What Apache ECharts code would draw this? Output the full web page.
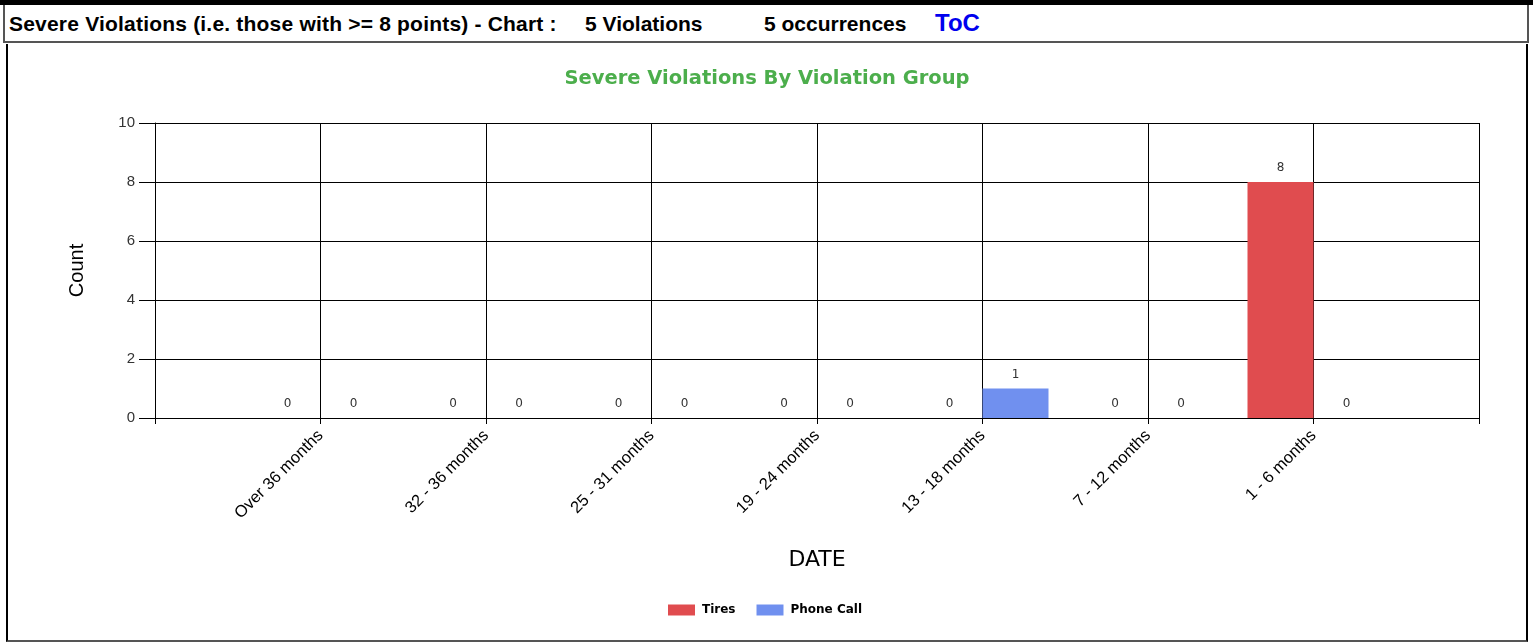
<!DOCTYPE html>
<html>
<head>
<meta charset="utf-8">
<script src="https://cdn.jsdelivr.net/npm/echarts@6/dist/echarts.min.js"></script>
<style>
  html, body { margin: 0; padding: 0; background: #fff; }
  body { width: 1533px; height: 644px; position: relative; overflow: hidden; }
  .topbar { position: absolute; left: 0; top: 0; width: 1533px; height: 5px; background: #000; }
  .header {
    position: absolute; left: 3px; top: 5px; width: 1522px; height: 36px;
    border: 2px solid #555; border-top: none; background: #fff;
    font-family: "Liberation Sans", Arial, sans-serif; font-weight: bold; font-size: 21px; color: #000;
  }
  .header span { position: absolute; top: 7px; white-space: nowrap; }
  .header .toc { color: #0000ee; font-size: 24px; top: 4px; }
  .box {
    position: absolute; left: 6px; top: 44px; width: 1518px; height: 596px;
    border-left: 2px solid #000; border-right: 2px solid #000; border-bottom: 2px solid #555;
  }
  #chart { width: 1518px; height: 596px; }
</style>
</head>
<body>
<div class="topbar"></div>
<div class="header">
  <span style="left:4px; letter-spacing:0.2px">Severe Violations (i.e. those with &gt;= 8 points) - Chart :</span>
  <span style="left:580px">5 Violations</span>
  <span style="left:759px">5 occurrences</span>
  <span class="toc" style="left:930px">ToC</span>
</div>
<div class="box"><div id="chart"></div></div>
<script>
// categories along the x axis (oldest first)
const categories = ['Over 36 months', '32 - 36 months', '25 - 31 months', '19 - 24 months',
  '13 - 18 months', '7 - 12 months', '1 - 6 months']
const tires = [0, 0, 0, 0, 0, 0, 8]
const phoneCall = [0, 0, 0, 0, 1, 0, 0]
const yTicks = [0, 2, 4, 6, 8, 10]

// labels sit on the boundaries, so pad an empty slot at each end
const xData = [''].concat(categories, [''])
const pad = arr => ['-'].concat(arr, ['-'])

const chart = echarts.init(document.getElementById('chart'))
const labelStyle = {
  show: true, position: 'top', distance: 8,
  fontFamily: 'DejaVu Sans, Verdana, sans-serif', fontSize: 12, color: '#333'
}
chart.setOption({
  animation: false,
  title: {
    text: 'Severe Violations By Violation Group',
    left: 'center', top: 20,
    textStyle: { fontFamily: 'DejaVu Sans, Tahoma, sans-serif', fontSize: 19.5, fontWeight: 'bold', color: '#4cae4c' }
  },
  legend: {
    bottom: 19, left: 655,
    icon: 'rect',
    itemWidth: 27, itemHeight: 11, itemGap: 21,
    textStyle: { fontFamily: 'DejaVu Sans, Tahoma, sans-serif', fontSize: 12, fontWeight: 'bold', color: '#000', padding: [0, 0, 0, 2] },
    data: ['Tires', 'Phone Call']
  },
  grid: { left: 147, right: 47, top: 79, bottom: 222, containLabel: false },
  xAxis: {
    type: 'category',
    data: xData,
    boundaryGap: false,
    name: 'DATE',
    nameLocation: 'middle',
    nameGap: 131,
    nameTextStyle: { fontFamily: 'DejaVu Sans, sans-serif', fontSize: 22, color: '#000' },
    axisLine: { lineStyle: { color: '#000', width: 1 } },
    axisTick: { show: true, interval: 0, length: 6, lineStyle: { color: '#000' } },
    axisLabel: {
      interval: 0, rotate: 45, margin: 15,
      fontFamily: 'Liberation Sans, Arial, sans-serif', fontSize: 16.5, color: '#000'
    },
    splitLine: { show: true, interval: 0, lineStyle: { color: '#000', width: 1 } }
  },
  yAxis: {
    type: 'value',
    min: yTicks[0], max: yTicks[yTicks.length - 1], interval: 2,
    name: 'Count',
    nameLocation: 'middle',
    nameGap: 68,
    nameTextStyle: { fontFamily: 'Liberation Sans, Arial, sans-serif', fontSize: 20, color: '#000' },
    axisLine: { show: true, lineStyle: { color: '#000', width: 1 } },
    axisTick: { show: true, inside: false, length: 16, lineStyle: { color: '#000' } },
    axisLabel: { margin: 20, fontFamily: 'Liberation Sans, Arial, sans-serif', fontSize: 15, color: '#333' },
    splitLine: { show: true, lineStyle: { color: '#000', width: 1 } }
  },
  series: [
    {
      name: 'Tires', type: 'bar', data: pad(tires),
      barWidth: 66, barGap: '0%',
      itemStyle: { color: '#e04c4f' },
      label: labelStyle
    },
    {
      name: 'Phone Call', type: 'bar', data: pad(phoneCall),
      barWidth: 66,
      itemStyle: { color: '#7090ef' },
      label: labelStyle
    }
  ]
})
</script>
</body>
</html>
